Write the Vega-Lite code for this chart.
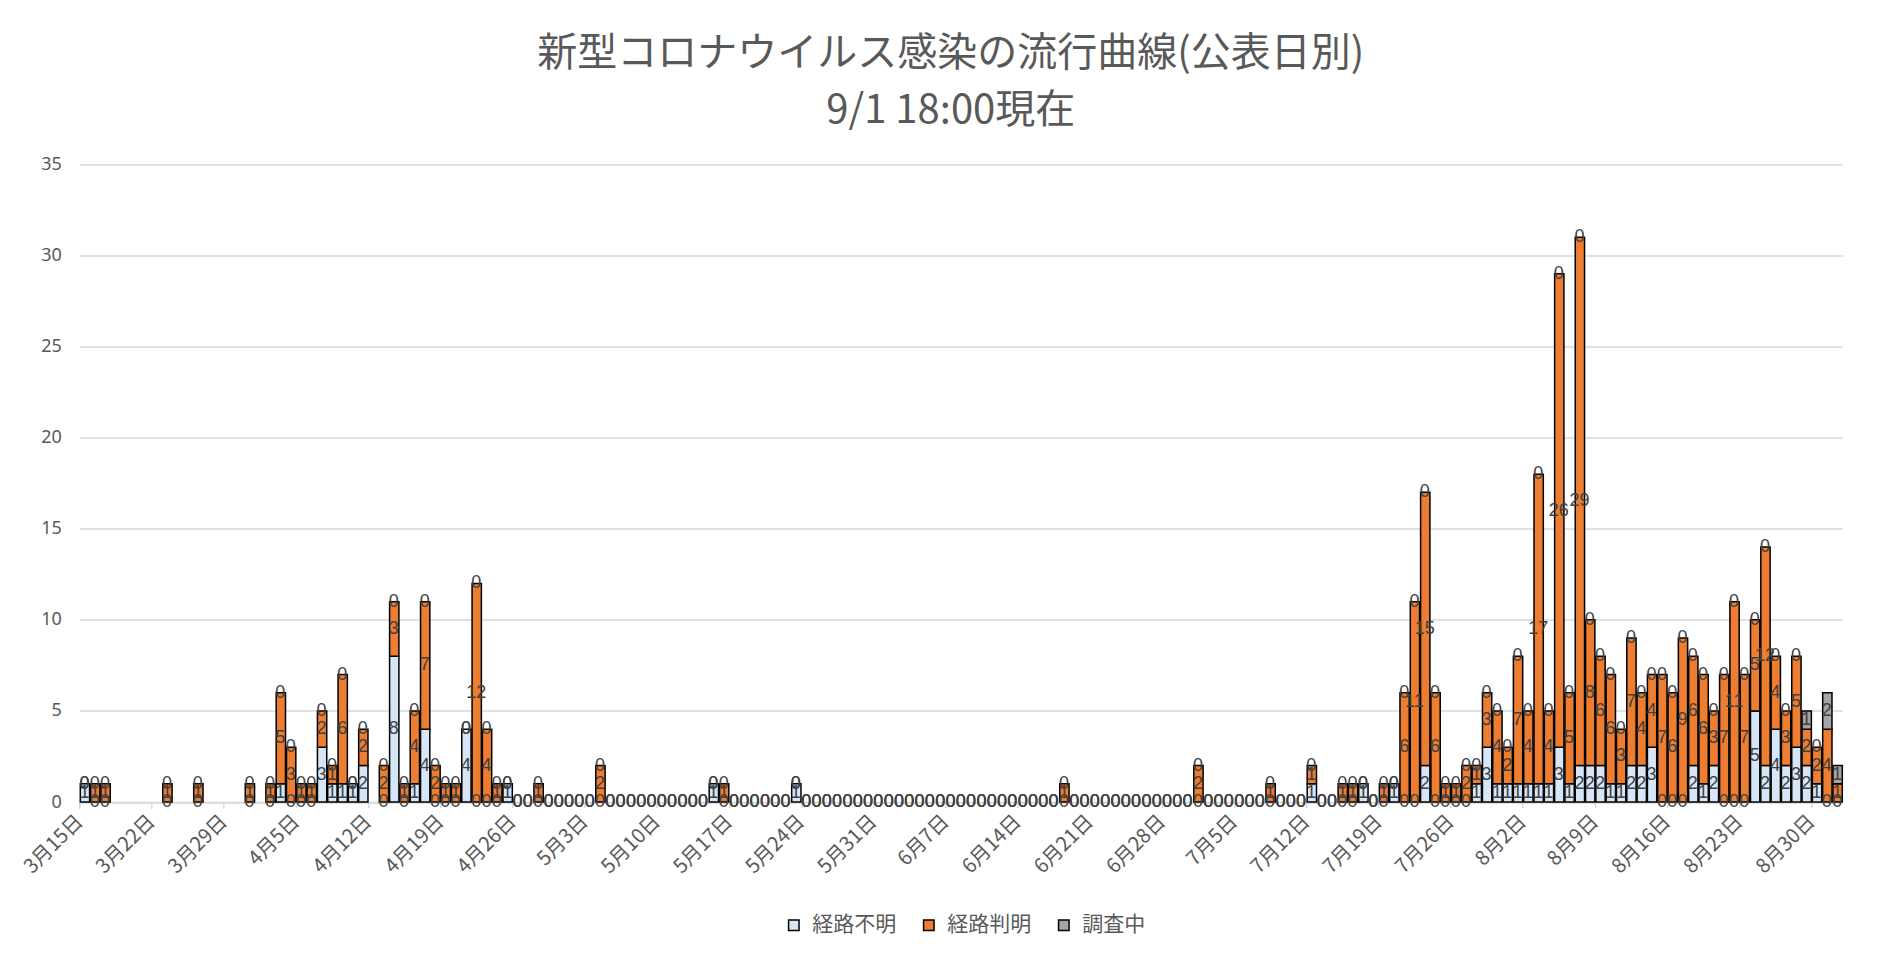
{
"$schema": "https://vega.github.io/schema/vega-lite/v6.json",
"width": 1763,
"height": 637.5,
"autosize": {"type": "none"},
"padding": {"left": 79.3, "top": 164.5, "right": 40.7, "bottom": 151},
"background": "white",
"title": {"text": ["新型コロナウイルス感染の流行曲線(公表日別)", "9/1 18:00現在"], "fontSize": 40, "lineHeight": 57, "color": "#595959", "font": "Noto Sans CJK JP", "fontWeight": "normal", "anchor": "middle", "offset": 25, "dx": -10},
"data": {"values": [
{"date":"2020/03/15","経路不明":1,"経路判明":0,"調査中":0},
{"date":"2020/03/16","経路不明":0,"経路判明":1,"調査中":0},
{"date":"2020/03/17","経路不明":0,"経路判明":1,"調査中":0},
{"date":"2020/03/23","経路不明":0,"経路判明":1,"調査中":0},
{"date":"2020/03/26","経路不明":0,"経路判明":1,"調査中":0},
{"date":"2020/03/31","経路不明":0,"経路判明":1,"調査中":0},
{"date":"2020/04/02","経路不明":0,"経路判明":1,"調査中":0},
{"date":"2020/04/03","経路不明":1,"経路判明":5,"調査中":0},
{"date":"2020/04/04","経路不明":0,"経路判明":3,"調査中":0},
{"date":"2020/04/05","経路不明":0,"経路判明":1,"調査中":0},
{"date":"2020/04/06","経路不明":0,"経路判明":1,"調査中":0},
{"date":"2020/04/07","経路不明":3,"経路判明":2,"調査中":0},
{"date":"2020/04/08","経路不明":1,"経路判明":1,"調査中":0},
{"date":"2020/04/09","経路不明":1,"経路判明":6,"調査中":0},
{"date":"2020/04/10","経路不明":1,"経路判明":0,"調査中":0},
{"date":"2020/04/11","経路不明":2,"経路判明":2,"調査中":0},
{"date":"2020/04/13","経路不明":0,"経路判明":2,"調査中":0},
{"date":"2020/04/14","経路不明":8,"経路判明":3,"調査中":0},
{"date":"2020/04/15","経路不明":0,"経路判明":1,"調査中":0},
{"date":"2020/04/16","経路不明":1,"経路判明":4,"調査中":0},
{"date":"2020/04/17","経路不明":4,"経路判明":7,"調査中":0},
{"date":"2020/04/18","経路不明":0,"経路判明":2,"調査中":0},
{"date":"2020/04/19","経路不明":0,"経路判明":1,"調査中":0},
{"date":"2020/04/20","経路不明":0,"経路判明":1,"調査中":0},
{"date":"2020/04/21","経路不明":4,"経路判明":0,"調査中":0},
{"date":"2020/04/22","経路不明":0,"経路判明":12,"調査中":0},
{"date":"2020/04/23","経路不明":0,"経路判明":4,"調査中":0},
{"date":"2020/04/24","経路不明":0,"経路判明":1,"調査中":0},
{"date":"2020/04/25","経路不明":1,"経路判明":0,"調査中":0},
{"date":"2020/04/26","経路不明":0,"経路判明":0,"調査中":0},
{"date":"2020/04/27","経路不明":0,"経路判明":0,"調査中":0},
{"date":"2020/04/28","経路不明":0,"経路判明":1,"調査中":0},
{"date":"2020/04/29","経路不明":0,"経路判明":0,"調査中":0},
{"date":"2020/04/30","経路不明":0,"経路判明":0,"調査中":0},
{"date":"2020/05/01","経路不明":0,"経路判明":0,"調査中":0},
{"date":"2020/05/02","経路不明":0,"経路判明":0,"調査中":0},
{"date":"2020/05/03","経路不明":0,"経路判明":0,"調査中":0},
{"date":"2020/05/04","経路不明":0,"経路判明":2,"調査中":0},
{"date":"2020/05/05","経路不明":0,"経路判明":0,"調査中":0},
{"date":"2020/05/06","経路不明":0,"経路判明":0,"調査中":0},
{"date":"2020/05/07","経路不明":0,"経路判明":0,"調査中":0},
{"date":"2020/05/08","経路不明":0,"経路判明":0,"調査中":0},
{"date":"2020/05/09","経路不明":0,"経路判明":0,"調査中":0},
{"date":"2020/05/10","経路不明":0,"経路判明":0,"調査中":0},
{"date":"2020/05/11","経路不明":0,"経路判明":0,"調査中":0},
{"date":"2020/05/12","経路不明":0,"経路判明":0,"調査中":0},
{"date":"2020/05/13","経路不明":0,"経路判明":0,"調査中":0},
{"date":"2020/05/14","経路不明":0,"経路判明":0,"調査中":0},
{"date":"2020/05/15","経路不明":1,"経路判明":0,"調査中":0},
{"date":"2020/05/16","経路不明":0,"経路判明":1,"調査中":0},
{"date":"2020/05/17","経路不明":0,"経路判明":0,"調査中":0},
{"date":"2020/05/18","経路不明":0,"経路判明":0,"調査中":0},
{"date":"2020/05/19","経路不明":0,"経路判明":0,"調査中":0},
{"date":"2020/05/20","経路不明":0,"経路判明":0,"調査中":0},
{"date":"2020/05/21","経路不明":0,"経路判明":0,"調査中":0},
{"date":"2020/05/22","経路不明":0,"経路判明":0,"調査中":0},
{"date":"2020/05/23","経路不明":1,"経路判明":0,"調査中":0},
{"date":"2020/05/24","経路不明":0,"経路判明":0,"調査中":0},
{"date":"2020/05/25","経路不明":0,"経路判明":0,"調査中":0},
{"date":"2020/05/26","経路不明":0,"経路判明":0,"調査中":0},
{"date":"2020/05/27","経路不明":0,"経路判明":0,"調査中":0},
{"date":"2020/05/28","経路不明":0,"経路判明":0,"調査中":0},
{"date":"2020/05/29","経路不明":0,"経路判明":0,"調査中":0},
{"date":"2020/05/30","経路不明":0,"経路判明":0,"調査中":0},
{"date":"2020/05/31","経路不明":0,"経路判明":0,"調査中":0},
{"date":"2020/06/01","経路不明":0,"経路判明":0,"調査中":0},
{"date":"2020/06/02","経路不明":0,"経路判明":0,"調査中":0},
{"date":"2020/06/03","経路不明":0,"経路判明":0,"調査中":0},
{"date":"2020/06/04","経路不明":0,"経路判明":0,"調査中":0},
{"date":"2020/06/05","経路不明":0,"経路判明":0,"調査中":0},
{"date":"2020/06/06","経路不明":0,"経路判明":0,"調査中":0},
{"date":"2020/06/07","経路不明":0,"経路判明":0,"調査中":0},
{"date":"2020/06/08","経路不明":0,"経路判明":0,"調査中":0},
{"date":"2020/06/09","経路不明":0,"経路判明":0,"調査中":0},
{"date":"2020/06/10","経路不明":0,"経路判明":0,"調査中":0},
{"date":"2020/06/11","経路不明":0,"経路判明":0,"調査中":0},
{"date":"2020/06/12","経路不明":0,"経路判明":0,"調査中":0},
{"date":"2020/06/13","経路不明":0,"経路判明":0,"調査中":0},
{"date":"2020/06/14","経路不明":0,"経路判明":0,"調査中":0},
{"date":"2020/06/15","経路不明":0,"経路判明":0,"調査中":0},
{"date":"2020/06/16","経路不明":0,"経路判明":0,"調査中":0},
{"date":"2020/06/17","経路不明":0,"経路判明":0,"調査中":0},
{"date":"2020/06/18","経路不明":0,"経路判明":1,"調査中":0},
{"date":"2020/06/19","経路不明":0,"経路判明":0,"調査中":0},
{"date":"2020/06/20","経路不明":0,"経路判明":0,"調査中":0},
{"date":"2020/06/21","経路不明":0,"経路判明":0,"調査中":0},
{"date":"2020/06/22","経路不明":0,"経路判明":0,"調査中":0},
{"date":"2020/06/23","経路不明":0,"経路判明":0,"調査中":0},
{"date":"2020/06/24","経路不明":0,"経路判明":0,"調査中":0},
{"date":"2020/06/25","経路不明":0,"経路判明":0,"調査中":0},
{"date":"2020/06/26","経路不明":0,"経路判明":0,"調査中":0},
{"date":"2020/06/27","経路不明":0,"経路判明":0,"調査中":0},
{"date":"2020/06/28","経路不明":0,"経路判明":0,"調査中":0},
{"date":"2020/06/29","経路不明":0,"経路判明":0,"調査中":0},
{"date":"2020/06/30","経路不明":0,"経路判明":0,"調査中":0},
{"date":"2020/07/01","経路不明":0,"経路判明":2,"調査中":0},
{"date":"2020/07/02","経路不明":0,"経路判明":0,"調査中":0},
{"date":"2020/07/03","経路不明":0,"経路判明":0,"調査中":0},
{"date":"2020/07/04","経路不明":0,"経路判明":0,"調査中":0},
{"date":"2020/07/05","経路不明":0,"経路判明":0,"調査中":0},
{"date":"2020/07/06","経路不明":0,"経路判明":0,"調査中":0},
{"date":"2020/07/07","経路不明":0,"経路判明":0,"調査中":0},
{"date":"2020/07/08","経路不明":0,"経路判明":1,"調査中":0},
{"date":"2020/07/09","経路不明":0,"経路判明":0,"調査中":0},
{"date":"2020/07/10","経路不明":0,"経路判明":0,"調査中":0},
{"date":"2020/07/11","経路不明":0,"経路判明":0,"調査中":0},
{"date":"2020/07/12","経路不明":1,"経路判明":1,"調査中":0},
{"date":"2020/07/13","経路不明":0,"経路判明":0,"調査中":0},
{"date":"2020/07/14","経路不明":0,"経路判明":0,"調査中":0},
{"date":"2020/07/15","経路不明":0,"経路判明":1,"調査中":0},
{"date":"2020/07/16","経路不明":0,"経路判明":1,"調査中":0},
{"date":"2020/07/17","経路不明":1,"経路判明":0,"調査中":0},
{"date":"2020/07/18","経路不明":0,"経路判明":0,"調査中":0},
{"date":"2020/07/19","経路不明":0,"経路判明":1,"調査中":0},
{"date":"2020/07/20","経路不明":1,"経路判明":0,"調査中":0},
{"date":"2020/07/21","経路不明":0,"経路判明":6,"調査中":0},
{"date":"2020/07/22","経路不明":0,"経路判明":11,"調査中":0},
{"date":"2020/07/23","経路不明":2,"経路判明":15,"調査中":0},
{"date":"2020/07/24","経路不明":0,"経路判明":6,"調査中":0},
{"date":"2020/07/25","経路不明":0,"経路判明":1,"調査中":0},
{"date":"2020/07/26","経路不明":0,"経路判明":1,"調査中":0},
{"date":"2020/07/27","経路不明":0,"経路判明":2,"調査中":0},
{"date":"2020/07/28","経路不明":1,"経路判明":1,"調査中":0},
{"date":"2020/07/29","経路不明":3,"経路判明":3,"調査中":0},
{"date":"2020/07/30","経路不明":1,"経路判明":4,"調査中":0},
{"date":"2020/07/31","経路不明":1,"経路判明":2,"調査中":0},
{"date":"2020/08/01","経路不明":1,"経路判明":7,"調査中":0},
{"date":"2020/08/02","経路不明":1,"経路判明":4,"調査中":0},
{"date":"2020/08/03","経路不明":1,"経路判明":17,"調査中":0},
{"date":"2020/08/04","経路不明":1,"経路判明":4,"調査中":0},
{"date":"2020/08/05","経路不明":3,"経路判明":26,"調査中":0},
{"date":"2020/08/06","経路不明":1,"経路判明":5,"調査中":0},
{"date":"2020/08/07","経路不明":2,"経路判明":29,"調査中":0},
{"date":"2020/08/08","経路不明":2,"経路判明":8,"調査中":0},
{"date":"2020/08/09","経路不明":2,"経路判明":6,"調査中":0},
{"date":"2020/08/10","経路不明":1,"経路判明":6,"調査中":0},
{"date":"2020/08/11","経路不明":1,"経路判明":3,"調査中":0},
{"date":"2020/08/12","経路不明":2,"経路判明":7,"調査中":0},
{"date":"2020/08/13","経路不明":2,"経路判明":4,"調査中":0},
{"date":"2020/08/14","経路不明":3,"経路判明":4,"調査中":0},
{"date":"2020/08/15","経路不明":0,"経路判明":7,"調査中":0},
{"date":"2020/08/16","経路不明":0,"経路判明":6,"調査中":0},
{"date":"2020/08/17","経路不明":0,"経路判明":9,"調査中":0},
{"date":"2020/08/18","経路不明":2,"経路判明":6,"調査中":0},
{"date":"2020/08/19","経路不明":1,"経路判明":6,"調査中":0},
{"date":"2020/08/20","経路不明":2,"経路判明":3,"調査中":0},
{"date":"2020/08/21","経路不明":0,"経路判明":7,"調査中":0},
{"date":"2020/08/22","経路不明":0,"経路判明":11,"調査中":0},
{"date":"2020/08/23","経路不明":0,"経路判明":7,"調査中":0},
{"date":"2020/08/24","経路不明":5,"経路判明":5,"調査中":0},
{"date":"2020/08/25","経路不明":2,"経路判明":12,"調査中":0},
{"date":"2020/08/26","経路不明":4,"経路判明":4,"調査中":0},
{"date":"2020/08/27","経路不明":2,"経路判明":3,"調査中":0},
{"date":"2020/08/28","経路不明":3,"経路判明":5,"調査中":0},
{"date":"2020/08/29","経路不明":2,"経路判明":2,"調査中":1},
{"date":"2020/08/30","経路不明":1,"経路判明":2,"調査中":0},
{"date":"2020/08/31","経路不明":0,"経路判明":4,"調査中":2},
{"date":"2020/09/01","経路不明":0,"経路判明":1,"調査中":1}
]},
"transform": [
{"fold": ["経路不明", "経路判明", "調査中"], "as": ["cat", "n"]},
{"stack": "n", "groupby": ["date"], "sort": [{"field": "cat", "order": "ascending"}], "as": ["y0", "y1"]},
{"calculate": "(datum.y0 + datum.y1) / 2", "as": "mid"}
],
"layer": [
{
"transform": [{"filter": "datum.n > 0"}],
"mark": {"type": "bar", "stroke": "#000000", "strokeWidth": 1.5},
"encoding": {
"x": {"field": "date", "timeUnit": "yearmonthdate", "type": "temporal", "title": null,
"scale": {"domain": [{"year": 2020, "month": 3, "date": 15}, {"year": 2020, "month": 9, "date": 2}], "nice": false},
"axis": {"format": "%-m月%-d日", "formatType": "time", "tickCount": {"interval": "week", "step": 1}, "labelAngle": -45, "labelAlign": "right", "labelBaseline": "middle", "labelFontSize": 20, "labelColor": "#595959", "labelFont": "Noto Sans CJK JP", "domainColor": "#d9d9d9", "domainWidth": 1.5, "tickColor": "#d9d9d9", "tickWidth": 1.5, "tickSize": 6, "grid": false, "labelPadding": 10, "labelOverlap": false}},
"y": {"field": "y0", "type": "quantitative", "title": null,
"scale": {"domain": [0, 35], "nice": false},
"axis": {"values": [0, 5, 10, 15, 20, 25, 30, 35], "grid": true, "gridColor": "#d9d9d9", "gridWidth": 1.3, "domain": false, "ticks": false, "labelFontSize": 18, "labelColor": "#595959", "labelFont": "Noto Sans", "labelPadding": 18}},
"y2": {"field": "y1"},
"color": {"field": "cat", "type": "nominal",
"scale": {"domain": ["経路不明", "経路判明", "調査中"], "range": ["#d6e6f6", "#ED7D31", "#A5A5A5"]},
"legend": {"title": null, "orient": "none", "legendX": 704, "legendY": 750, "direction": "horizontal", "symbolType": "square", "symbolSize": 110, "symbolStrokeColor": "#000000", "symbolStrokeWidth": 1.5, "labelFontSize": 21, "labelColor": "#595959", "labelFont": "Noto Sans CJK JP", "columnPadding": 22, "labelOffset": 8, "padding": 0}}
}
},
{
"mark": {"type": "text", "fontSize": 18, "color": "#404040", "font": "Liberation Sans", "baseline": "middle", "align": "center"},
"encoding": {
"x": {"field": "date", "timeUnit": "yearmonthdate", "type": "temporal", "bandPosition": 0.5},
"y": {"field": "mid", "type": "quantitative"},
"text": {"field": "n", "type": "quantitative"}
}
}
],
"config": {"view": {"stroke": null}}
}
